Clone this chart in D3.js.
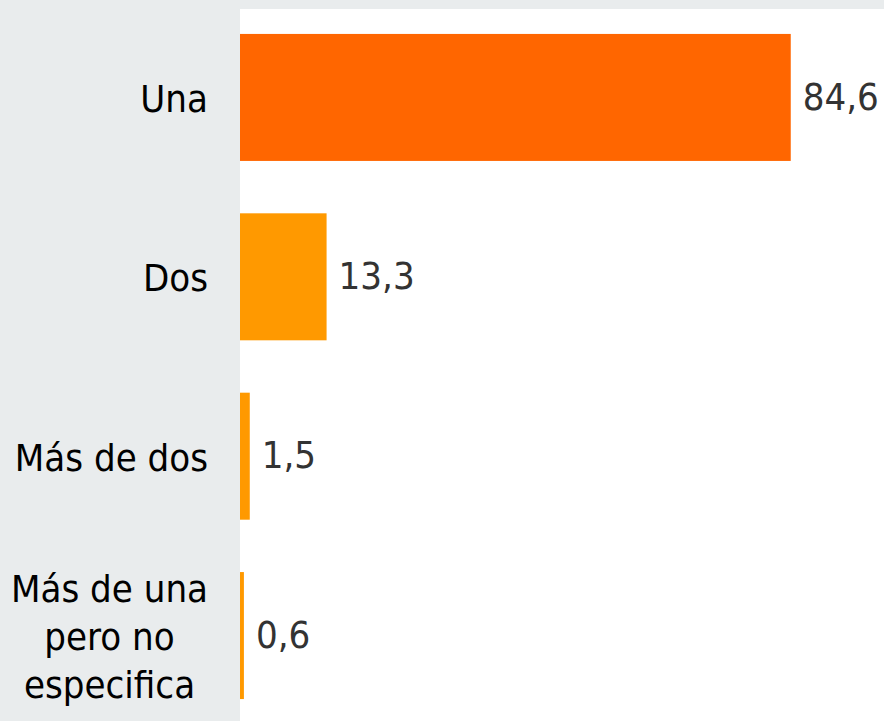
<!DOCTYPE html>
<html>
<head>
<meta charset="utf-8">
<script src="https://cdn.jsdelivr.net/npm/d3@7"></script>
<style>
  body { margin: 0; background: #e9eced; }
  svg { display: block; }
</style>
</head>
<body>
<div id="chart"></div>
<script>
// categories and values (percent)
var categories = ["Una", "Dos", "Más de dos", "Más de una pero no especifica"];
var labelLines = [["Una"], ["Dos"], ["Más de dos"], ["Más de una", "pero no", "especifica"]];
var values = [84.6, 13.3, 1.5, 0.6];
var valueLabels = ["84,6", "13,3", "1,5", "0,6"];
var barColors = ["#ff6600", "#ff9900", "#ff9900", "#ff9900"];

var width = 884, height = 721;
var plotLeft = 240, plotTop = 9;

var svg = d3.select("#chart").append("svg")
  .attr("width", width)
  .attr("height", height);

svg.append("rect")
  .attr("x", 0).attr("y", 0)
  .attr("width", width).attr("height", height)
  .attr("fill", "#e9eced");

// plot area
svg.append("rect")
  .attr("x", plotLeft).attr("y", plotTop)
  .attr("width", width - plotLeft).attr("height", height - plotTop)
  .attr("fill", "#ffffff");

var x = d3.scaleLinear().domain([0, 100]).range([plotLeft, plotLeft + 651]);
var y = d3.scaleBand().domain(categories).range([plotTop, 724])
  .paddingInner(0.292).paddingOuter(0.139);

var font = "'DejaVu Sans Condensed', 'DejaVu Sans', Verdana, sans-serif";

svg.selectAll("rect.bar")
  .data(values)
  .enter()
  .append("rect")
  .attr("class", "bar")
  .attr("x", x(0))
  .attr("y", function(d, i) { return y(categories[i]); })
  .attr("width", function(d) { return x(d) - x(0); })
  .attr("height", y.bandwidth())
  .attr("fill", function(d, i) { return barColors[i]; });

// value labels
svg.selectAll("text.val")
  .data(values)
  .enter()
  .append("text")
  .attr("class", "val")
  .attr("x", function(d) { return x(d) + 12; })
  .attr("y", function(d, i) { return y(categories[i]) + y.bandwidth() / 2; })
  .attr("dy", "0.32em")
  .attr("font-family", font)
  .attr("font-size", 38)
  .attr("fill", "#333333")
  .text(function(d, i) { return valueLabels[i]; });

// category labels, right aligned block, lines centred within block
var lineH = 48;
labelLines.forEach(function(lines, i) {
  var g = svg.append("g");
  var cy = y(categories[i]) + y.bandwidth() / 2;
  var texts = lines.map(function(l, j) {
    return g.append("text")
      .attr("y", cy + (j - (lines.length - 1) / 2) * lineH)
      .attr("dy", "0.38em")
      .attr("font-family", font)
      .attr("font-size", 38)
      .attr("fill", "#000000")
      .attr("text-anchor", "middle")
      .text(l);
  });
  var maxW = d3.max(texts, function(t) { return t.node().getComputedTextLength(); });
  texts.forEach(function(t) { t.attr("x", 208 - maxW / 2); });
});
</script>
</body>
</html>
